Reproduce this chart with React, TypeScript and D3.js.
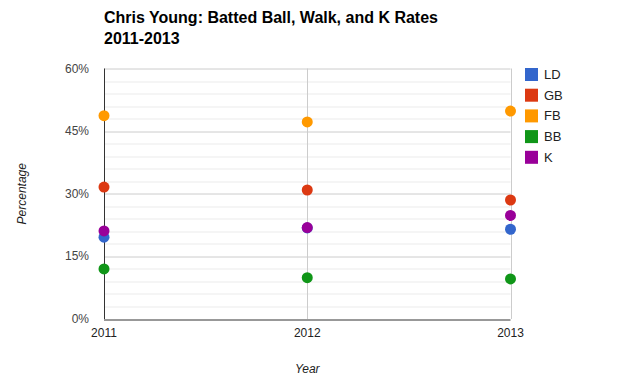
import React, { useEffect, useRef } from 'react';
import * as d3 from 'd3';

// Chris Young rates by season
const years = [2011, 2012, 2013];
const seriesNames = ['LD', 'GB', 'FB', 'BB', 'K'];
const ldRate = [19.6, 21.8, 21.5];
const gbRate = [31.6, 30.9, 28.5];
const fbRate = [48.7, 47.2, 49.8];
const bbRate = [12.0, 9.9, 9.6];
const kRate = [21.1, 21.9, 24.8];
const colors = ['#3366cc', '#dc3912', '#ff9900', '#109618', '#990099'];
const yTicks = [0, 15, 30, 45, 60];

const App = () => {
  const ref = useRef<SVGSVGElement>(null);

  useEffect(() => {
    const margin = { top: 68.5, left: 104, right: 119.5, bottom: 67 };
    const W = 630, H = 386;
    const width = W - margin.left - margin.right,
      height = H - margin.top - margin.bottom;
    const font = 'Arial, "Liberation Sans", sans-serif';

    const svg = d3.select(ref.current);
    svg.selectAll('*').remove();

    const series = [ldRate, gbRate, fbRate, bbRate, kRate];

    const x = d3.scaleLinear().domain([2011, 2013]).range([0, width]);
    const y = d3.scaleLinear().domain([0, 60]).range([height, 0]);

    // title
    const title = svg.append('text')
      .attr('x', margin.left)
      .attr('font-family', font)
      .attr('font-size', 16)
      .attr('font-weight', 'bold')
      .attr('fill', '#000');
    title.append('tspan').attr('x', margin.left).attr('y', 23).text('Chris Young: Batted Ball, Walk, and K Rates');
    title.append('tspan').attr('x', margin.left).attr('y', 44).text('2011-2013');

    const g = svg.append('g').attr('transform', `translate(${margin.left},${margin.top})`);

    // minor gridlines
    g.selectAll('line.minor')
      .data(d3.range(3, 60, 3).filter((v) => v % 15 !== 0))
      .enter()
      .append('line')
      .attr('x1', 0)
      .attr('x2', width)
      .attr('y1', (d) => Math.round(y(d)) + 0.5)
      .attr('y2', (d) => Math.round(y(d)) + 0.5)
      .attr('stroke', '#ebebeb');

    // major gridlines
    g.selectAll('line.major')
      .data(yTicks.slice(1))
      .enter()
      .append('line')
      .attr('x1', 0)
      .attr('x2', width)
      .attr('y1', (d) => Math.round(y(d)) + 0.5)
      .attr('y2', (d) => Math.round(y(d)) + 0.5)
      .attr('stroke', '#cccccc');

    // vertical gridlines
    g.selectAll('line.vgrid')
      .data(years.slice(1))
      .enter()
      .append('line')
      .attr('x1', (d) => Math.round(x(d)) + 0.5)
      .attr('x2', (d) => Math.round(x(d)) + 0.5)
      .attr('y1', 0)
      .attr('y2', height)
      .attr('stroke', '#cccccc');

    // baselines
    g.append('line')
      .attr('x1', 0.5).attr('x2', 0.5)
      .attr('y1', 0).attr('y2', height)
      .attr('stroke', '#333333');
    g.append('line')
      .attr('x1', 0).attr('x2', width)
      .attr('y1', Math.round(height) + 0.5).attr('y2', Math.round(height) + 0.5)
      .attr('stroke', '#333333');

    // y tick labels
    g.selectAll('text.ytick')
      .data(yTicks)
      .enter()
      .append('text')
      .attr('x', -15)
      .attr('y', (d) => y(d) + 4)
      .attr('text-anchor', 'end')
      .attr('font-family', font)
      .attr('font-size', 12)
      .attr('fill', '#444')
      .text((d) => d + '%');

    // x tick labels
    g.selectAll('text.xtick')
      .data(years)
      .enter()
      .append('text')
      .attr('x', (d) => x(d))
      .attr('y', height + 18)
      .attr('text-anchor', 'middle')
      .attr('font-family', font)
      .attr('font-size', 12)
      .attr('fill', '#222')
      .text((d) => d);

    // axis titles
    svg.append('text')
      .attr('transform', `translate(26,${margin.top + height / 2}) rotate(-90)`)
      .attr('text-anchor', 'middle')
      .attr('font-family', font)
      .attr('font-size', 12)
      .attr('font-style', 'italic')
      .attr('fill', '#222')
      .text('Percentage');
    svg.append('text')
      .attr('x', margin.left + width / 2)
      .attr('y', 373)
      .attr('text-anchor', 'middle')
      .attr('font-family', font)
      .attr('font-size', 12)
      .attr('font-style', 'italic')
      .attr('fill', '#222')
      .text('Year');

    // points
    series.forEach((vals, i) => {
      g.selectAll(`circle.s${i}`)
        .data(vals)
        .enter()
        .append('circle')
        .attr('cx', (_, j) => x(years[j]))
        .attr('cy', (d) => y(d))
        .attr('r', 5.5)
        .attr('fill', colors[i]);
    });

    // legend
    const lg = svg.append('g').attr('transform', 'translate(525,68)');
    seriesNames.forEach((name, i) => {
      lg.append('rect')
        .attr('x', 0)
        .attr('y', i * 20.7)
        .attr('width', 13)
        .attr('height', 13)
        .attr('fill', colors[i]);
      lg.append('text')
        .attr('x', 19)
        .attr('y', i * 20.7 + 11)
        .attr('font-family', font)
        .attr('font-size', 13)
        .attr('fill', '#222')
        .text(name);
    });
  }, []);

  return (
    <svg
      ref={ref}
      width={630}
      height={386}
      style={{ position: 'absolute', left: 0, top: 0, background: '#fff' }}
    />
  );
};

export default App;
